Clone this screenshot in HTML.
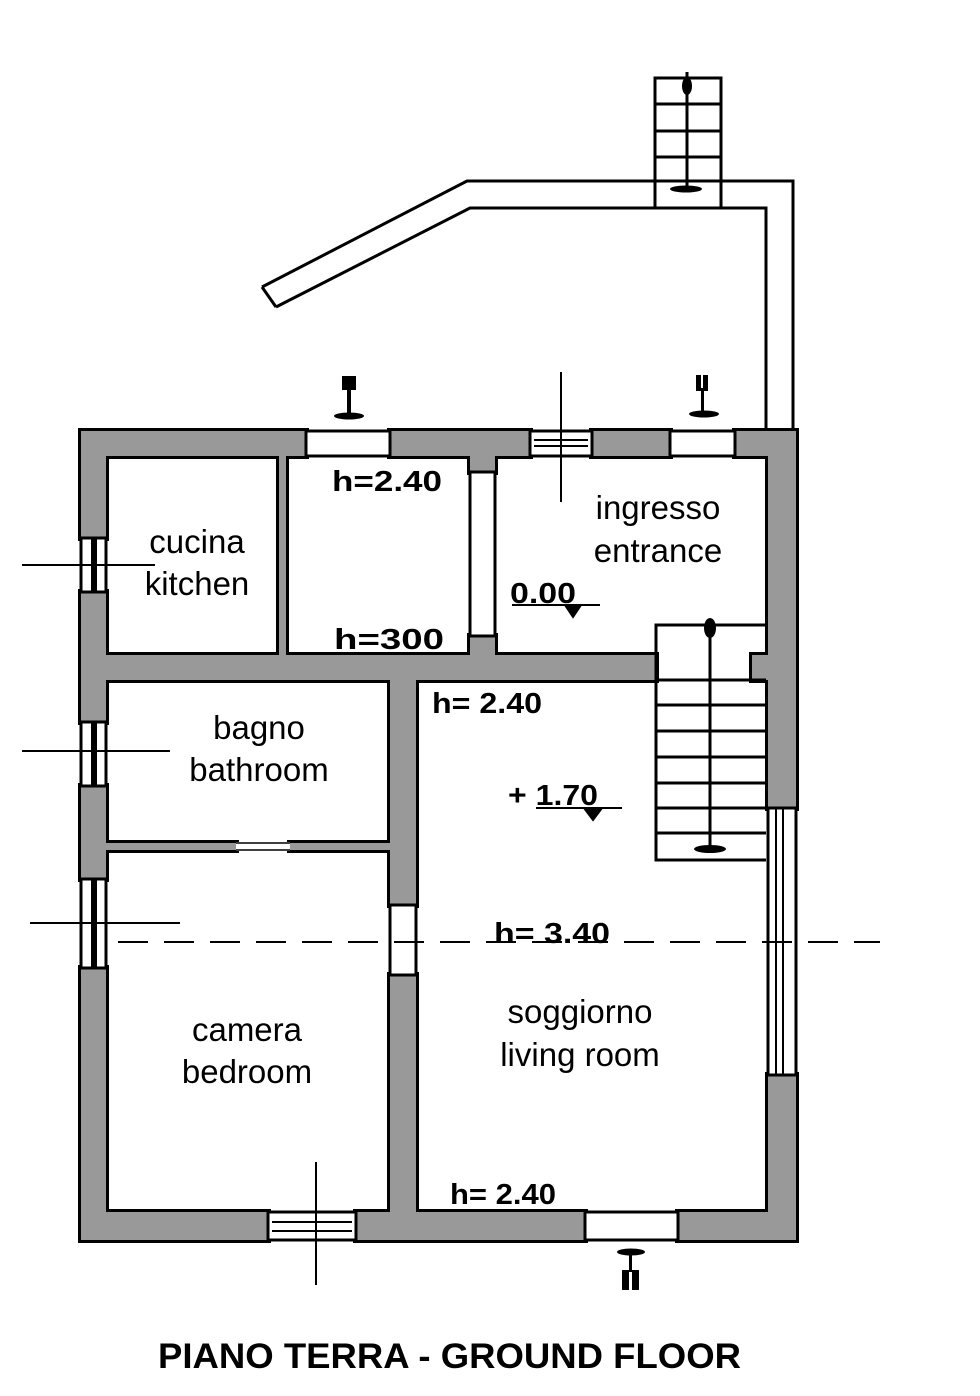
<!DOCTYPE html>
<html><head><meta charset="utf-8"><style>html,body{margin:0;padding:0;background:#fff}svg{display:block}</style></head>
<body>
<svg width="980" height="1396" viewBox="0 0 980 1396" xmlns="http://www.w3.org/2000/svg">
<defs>
<g id="walls">
<rect x="81" y="431" width="225" height="25"/>
<rect x="390" y="431" width="140" height="25"/>
<rect x="592" y="431" width="78" height="25"/>
<rect x="735" y="431" width="61" height="25"/>
<rect x="81" y="431" width="25" height="107"/>
<rect x="81" y="592" width="25" height="130"/>
<rect x="81" y="786" width="25" height="93"/>
<rect x="81" y="968" width="25" height="272"/>
<rect x="768" y="431" width="28" height="377"/>
<rect x="768" y="1075" width="28" height="165"/>
<rect x="81" y="1212" width="187" height="28"/>
<rect x="356" y="1212" width="229" height="28"/>
<rect x="678" y="1212" width="118" height="28"/>
<rect x="81" y="655" width="575" height="25"/>
<rect x="752" y="655" width="30" height="25"/>
<rect x="470" y="440" width="25" height="32"/>
<rect x="470" y="636" width="25" height="30"/>
<rect x="390" y="660" width="26" height="245"/>
<rect x="390" y="975" width="26" height="250"/>
<rect x="279" y="440" width="7" height="225"/>
<rect x="95" y="843" width="141" height="7"/>
<rect x="290" y="843" width="110" height="7"/>
</g>
</defs>
<g fill="none" stroke="#000" stroke-width="3">
<polyline points="262,287 467,181 793,181 793,432"/>
<polyline points="276,307 470,208 766,208 766,432"/>
<line x1="262" y1="287" x2="276" y2="307"/>
<rect x="655" y="78" width="66" height="130"/>
<line x1="655" y1="104" x2="721" y2="104"/>
<line x1="655" y1="131" x2="721" y2="131"/>
<line x1="655" y1="157" x2="721" y2="157"/>
<line x1="687" y1="72" x2="687" y2="190"/>
</g>
<ellipse cx="687" cy="86" rx="5" ry="9" fill="#000"/>
<ellipse cx="686" cy="189" rx="16" ry="3.5" fill="#000"/>

<use href="#walls" fill="#000" stroke="#000" stroke-width="6"/>
<use href="#walls" fill="#999" stroke="none"/>

<g fill="#fff" stroke="#000" stroke-width="3">
<rect x="306" y="431" width="84" height="25"/>
<rect x="670" y="431" width="65" height="25"/>
<rect x="530" y="431" width="62" height="25"/>
<rect x="470" y="472" width="25" height="164"/>
<rect x="390" y="905" width="26" height="70"/>
<rect x="585" y="1212" width="93" height="28"/>
<rect x="268" y="1212" width="88" height="28"/>
<rect x="81" y="538" width="25" height="54"/>
<rect x="81" y="722" width="25" height="64"/>
<rect x="81" y="879" width="25" height="89"/>
<rect x="768" y="808" width="28" height="267"/>
<rect x="236" y="842" width="54" height="9" stroke="none"/>
</g>
<g stroke="#000" stroke-width="2">
<line x1="534" y1="440" x2="588" y2="440"/>
<line x1="534" y1="446" x2="588" y2="446"/>
<line x1="272" y1="1222" x2="352" y2="1222"/>
<line x1="272" y1="1231" x2="352" y2="1231"/>
<line x1="776" y1="808" x2="776" y2="1075"/>
<line x1="783" y1="808" x2="783" y2="1075"/>
<line x1="236" y1="843" x2="290" y2="843" stroke-width="1.5"/>
<line x1="236" y1="850" x2="290" y2="850" stroke-width="1.5"/>
</g>
<g fill="#000">
<rect x="91" y="538" width="6" height="54"/>
<rect x="91" y="722" width="6" height="64"/>
<rect x="91" y="879" width="6" height="89"/>
</g>
<g stroke="#000" fill="none">
<line x1="22" y1="565" x2="155" y2="565" stroke-width="2"/>
<line x1="22" y1="751" x2="170" y2="751" stroke-width="2"/>
<line x1="30" y1="923" x2="180" y2="923" stroke-width="2"/>
<line x1="561" y1="372" x2="561" y2="502" stroke-width="2"/>
<line x1="316" y1="1162" x2="316" y2="1285" stroke-width="2"/>
<line x1="118" y1="942" x2="880" y2="942" stroke-width="2" stroke-dasharray="30,16"/>
<g stroke-width="3">
<polyline points="766,625 656,625 656,860 766,860"/>
<line x1="656" y1="680" x2="766" y2="680"/>
<line x1="656" y1="705" x2="766" y2="705"/>
<line x1="656" y1="731" x2="766" y2="731"/>
<line x1="656" y1="757" x2="766" y2="757"/>
<line x1="656" y1="783" x2="766" y2="783"/>
<line x1="656" y1="808" x2="766" y2="808"/>
<line x1="656" y1="833" x2="766" y2="833"/>
<line x1="710" y1="625" x2="710" y2="850"/>
</g>
</g>
<ellipse cx="710" cy="628" rx="6" ry="10" fill="#000"/>
<ellipse cx="710" cy="849" rx="16" ry="4" fill="#000"/>
<g fill="#000">
<rect x="342" y="376" width="14" height="14"/>
<rect x="347" y="388" width="4" height="26"/>
<ellipse cx="349" cy="416" rx="15" ry="3.5"/>
<rect x="696" y="375" width="5" height="16"/><rect x="703" y="375" width="5" height="16"/>
<rect x="701" y="388" width="3" height="26"/>
<ellipse cx="704" cy="414" rx="15" ry="3.5"/>
<ellipse cx="631" cy="1252" rx="14" ry="3.5"/>
<rect x="629" y="1252" width="3" height="20"/>
<rect x="622" y="1270" width="7" height="20"/><rect x="632" y="1270" width="7" height="20"/>
</g>
<g font-family="Liberation Sans, sans-serif" fill="#000">
<g font-size="29" font-weight="bold">
<text x="332" y="491" textLength="110" lengthAdjust="spacingAndGlyphs">h=2.40</text>
<text x="334" y="649" textLength="110" lengthAdjust="spacingAndGlyphs">h=300</text>
<text x="432" y="713" textLength="110" lengthAdjust="spacingAndGlyphs">h= 2.40</text>
<text x="510" y="603" textLength="66" lengthAdjust="spacingAndGlyphs">0.00</text>
<text x="508" y="805" textLength="90" lengthAdjust="spacingAndGlyphs">+ 1.70</text>
<text x="494" y="943" textLength="116" lengthAdjust="spacingAndGlyphs">h= 3.40</text>
<text x="450" y="1204" textLength="106" lengthAdjust="spacingAndGlyphs">h= 2.40</text>
</g>
<g font-size="33" text-anchor="middle">
<text x="197" y="553">cucina</text>
<text x="197" y="595">kitchen</text>
<text x="658" y="519">ingresso</text>
<text x="658" y="562">entrance</text>
<text x="259" y="739">bagno</text>
<text x="259" y="781">bathroom</text>
<text x="247" y="1041">camera</text>
<text x="247" y="1083">bedroom</text>
<text x="580" y="1023">soggiorno</text>
<text x="580" y="1066">living room</text>
</g>
<text x="158" y="1368" font-size="35" font-weight="bold" textLength="583" lengthAdjust="spacingAndGlyphs">PIANO TERRA - GROUND FLOOR</text>
</g>
<g stroke="#000" stroke-width="2" fill="#000">
<line x1="512" y1="605" x2="600" y2="605"/>
<polygon points="565,605 581,605 573,617"/>
<line x1="536" y1="808" x2="622" y2="808"/>
<polygon points="584,808 602,808 593,820"/>
</g>
</svg>
</body></html>
